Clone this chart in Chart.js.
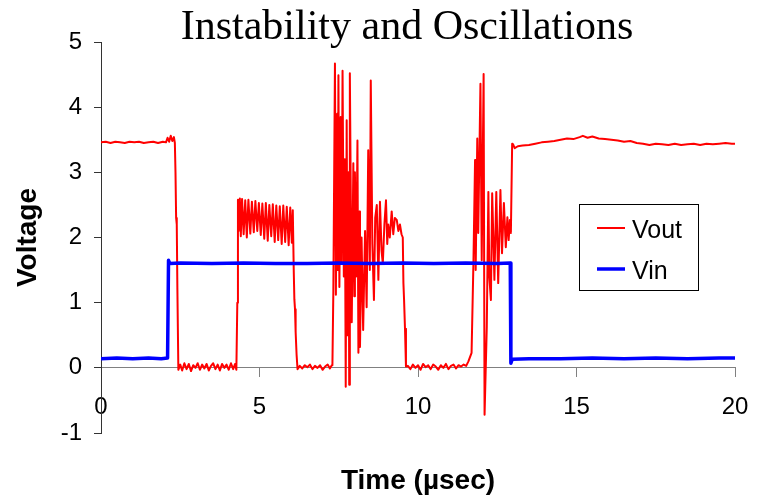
<!DOCTYPE html>
<html>
<head>
<meta charset="utf-8">
<title>Instability and Oscillations</title>
<script src="https://cdn.jsdelivr.net/npm/chart.js@4.4.1/dist/chart.umd.min.js"></script>
<style>
  html, body { margin: 0; padding: 0; background: #fff; }
  #wrap { width: 765px; height: 497px; }
</style>
</head>
<body>
<div id="wrap"><canvas id="scopeChart" width="765" height="497"></canvas></div>
<script>
// ---- data (time in µs, voltage in V) ----
const chartTitle = "Instability and Oscillations";
const xTitle = "Time (\u00b5sec)";
const yTitle = "Voltage";
const seriesNames = ["Vout", "Vin"];
const xTicks = [0, 5, 10, 15, 20];
const yTicks = [-1, 0, 1, 2, 3, 4, 5];

const voutTime = [
  // high before the input step
  0, 0.15, 0.3, 0.45, 0.6, 0.75, 0.9, 1.05, 1.2, 1.35, 1.5, 1.65, 1.8, 1.95, 2.05, 2.1, 2.15, 2.2, 2.25, 2.3, 2.33, 2.35, 2.37, 2.39, 2.41, 2.44,
  // low
  2.5, 2.56, 2.63, 2.7, 2.77, 2.84, 2.91, 2.98, 3.05, 3.12, 3.19, 3.26, 3.33, 3.4, 3.47, 3.54, 3.61, 3.68, 3.75, 3.82, 3.89, 3.96, 4.03, 4.1, 4.17, 4.23, 4.27,
  // ringing plateau
  4.3, 4.32, 4.34, 4.38, 4.41, 4.45, 4.5, 4.55, 4.6, 4.65, 4.71, 4.76, 4.82, 4.87, 4.93, 4.98, 5.04, 5.09, 5.15, 5.2, 5.26, 5.31, 5.37, 5.42, 5.48, 5.53, 5.59, 5.64, 5.7, 5.75, 5.81, 5.86, 5.92, 5.97, 6.02, 6.05,
  6.08, 6.1, 6.12, 6.14, 6.17, 6.2,
  // low
  6.27, 6.35, 6.43, 6.51, 6.59, 6.67, 6.75, 6.83, 6.91, 6.99, 7.07, 7.15, 7.22, 7.28,
  // first burst
  7.30, 7.33, 7.38, 7.41, 7.45, 7.47, 7.49, 7.52, 7.56, 7.59, 7.62, 7.66, 7.69, 7.72, 7.75, 7.78, 7.81, 7.83, 7.85, 7.91,
  7.96, 7.99, 8.01, 8.05, 8.09, 8.12, 8.15, 8.17, 8.22, 8.27, 8.33, 8.38, 8.43, 8.48, 8.51, 8.56, 8.61, 8.65, 8.70, 8.75,
  8.80, 8.85, 8.89, 8.94, 8.99, 9.03, 9.06, 9.11, 9.17, 9.22, 9.27, 9.33, 9.38, 9.43, 9.48, 9.52, 9.54, 9.56, 9.59, 9.62,
  // low
  9.68, 9.76, 9.84, 9.92, 10.0, 10.08, 10.16, 10.24, 10.32, 10.4, 10.48, 10.56, 10.64, 10.72, 10.8, 10.88, 10.96, 11.04, 11.12, 11.2, 11.28, 11.36, 11.44, 11.52,
  // second burst
  11.59, 11.69, 11.75, 11.80, 11.82, 11.87, 11.90, 11.97, 12.01, 12.07, 12.10, 12.17, 12.22, 12.25, 12.30, 12.34, 12.41, 12.47, 12.53, 12.60, 12.65, 12.71, 12.77, 12.82, 12.86, 12.90, 12.93, 12.97,
  // settled high
  13.0, 13.05, 13.15, 13.3, 13.5, 13.7, 13.9, 14.1, 14.3, 14.5, 14.7, 14.9, 15.1, 15.2, 15.35, 15.5, 15.7, 15.9, 16.1, 16.3,
  16.5, 16.7, 16.9, 17.1, 17.3, 17.5, 17.7, 17.9, 18.1, 18.3, 18.5, 18.7, 18.9, 19.1, 19.3, 19.5, 19.7, 19.9, 20.0
];
const voutVolts = [
  3.46, 3.47, 3.45, 3.47, 3.46, 3.45, 3.47, 3.46, 3.47, 3.45, 3.46, 3.47, 3.45, 3.47, 3.46, 3.53, 3.47, 3.56, 3.48, 3.54, 3.45, 3.0, 2.3, 2.2, 1.2, -0.03,
  0.05, -0.04, 0.07, -0.02, 0.06, -0.05, 0.04, 0.0, 0.07, -0.03, 0.05, -0.01, 0.06, -0.04, 0.03, 0.07, -0.02, 0.05, -0.04, 0.06, 0.0, 0.05, -0.03, 0.07, -0.02, 0.06, -0.03,
  1.0, 2.58, 2.1, 2.6, 2.02, 2.59, 2.05, 2.57, 2.0, 2.58, 2.06, 2.55, 2.08, 2.56, 2.1, 2.53, 2.04, 2.52, 1.98, 2.53, 1.95, 2.5, 2.02, 2.51, 1.93, 2.49, 1.96, 2.48, 1.9, 2.49, 1.93, 2.47, 1.88, 2.46, 1.92, 2.42,
  1.5, 1.05, 0.9, 0.55, 0.2, -0.02,
  0.03, -0.01, 0.04, 0.01, 0.05, -0.02, 0.03, 0.0, 0.04, -0.03, 0.02, 0.05, -0.01, 0.04,
  0.04, 1.2, 4.67, 1.12, 3.9, 1.5, 4.49, 1.24, 3.85, 1.6, 4.56, 1.4, 3.2, -0.29, 3.8, 0.5, 3.0, -0.26, 4.52, 0.7,
  3.14, 1.1, 3.0, 1.4, 3.49, 0.23, 2.4, 0.32, 2.0, 0.58, 2.1, 0.93, 3.34, 1.5, 4.41, 1.9, 1.04, 2.3, 2.5, 1.35,
  2.55, 1.8, 1.6, 2.2, 2.57, 1.9, 2.2, 2.0, 2.4, 2.05, 2.3, 2.27, 2.1, 2.2, 2.05, 2.0, 1.3, 1.05, 0.6, 0.02,
  0.03, -0.02, 0.05, 0.0, 0.04, -0.03, 0.06, 0.01, 0.04, -0.02, 0.05, 0.02, -0.03, 0.04, 0.0, 0.06, -0.02, 0.03, 0.05, -0.01, 0.04, 0.02, 0.05, 0.03,
  0.1, 0.23, 1.65, 3.19, 1.5, 3.52, 2.07, 4.36, 1.65, 4.51, -0.72, 0.63, 2.7, 1.4, 1.04, 2.68, 1.35, 2.7, 1.3, 2.73, 1.76, 2.53, 1.85, 2.31, 1.96, 2.27, 2.07, 3.44,
  3.43, 3.37, 3.40, 3.41, 3.42, 3.44, 3.46, 3.47, 3.48, 3.50, 3.52, 3.51, 3.54, 3.56, 3.53, 3.55, 3.52, 3.51, 3.50, 3.49,
  3.47, 3.48, 3.45, 3.44, 3.42, 3.44, 3.43, 3.42, 3.44, 3.42, 3.43, 3.44, 3.42, 3.44, 3.43, 3.44, 3.45, 3.44, 3.44
];

const vinTime = [0, 0.5, 1.0, 1.5, 1.9, 2.1, 2.13, 2.17, 2.5, 3.5, 4.5, 5.5, 6.5, 7.5, 8.5, 9.5, 10.5, 11.5, 12.5, 12.91, 12.93, 12.97, 13.5, 14.5, 15.5, 16.5, 17.5, 18.5, 19.5, 20];
const vinVolts = [0.14, 0.15, 0.14, 0.15, 0.14, 0.15, 1.65, 1.60, 1.61, 1.60, 1.61, 1.60, 1.60, 1.61, 1.60, 1.61, 1.60, 1.61, 1.60, 1.61, 0.07, 0.13, 0.14, 0.14, 0.15, 0.14, 0.15, 0.14, 0.15, 0.15];

const toPoints = (ts, vs) => ts.map((t, i) => ({ x: t, y: vs[i] }));

const sansFont = '"Liberation Sans", Arial, Helvetica, sans-serif';

// title drawn across the top, a little left of the plot centre like the original
const topTitle = {
  id: "topTitle",
  afterDraw(chart) {
    const ctx = chart.ctx;
    ctx.save();
    ctx.font = '42px "Liberation Serif", "Times New Roman", serif';
    ctx.fillStyle = "#000";
    ctx.textAlign = "center";
    ctx.textBaseline = "alphabetic";
    ctx.fillText(chartTitle, 407, 39);
    ctx.restore();
  }
};

// boxed legend sitting inside the plot area
const boxLegend = {
  id: "boxLegend",
  afterDatasetsDraw(chart) {
    const ctx = chart.ctx;
    const left = 579.5, top = 204.5, w = 119, h = 86;
    ctx.save();
    ctx.fillStyle = "#fff";
    ctx.fillRect(left, top, w, h);
    ctx.strokeStyle = "#000";
    ctx.lineWidth = 1;
    ctx.strokeRect(left, top, w, h);
    ctx.font = "25px " + sansFont;
    ctx.textBaseline = "alphabetic";
    chart.data.datasets.forEach((ds, i) => {
      const y = 228 + i * 41;
      ctx.strokeStyle = ds.borderColor;
      ctx.lineWidth = ds.borderWidth;
      ctx.beginPath();
      ctx.moveTo(597, y);
      ctx.lineTo(625, y);
      ctx.stroke();
      ctx.fillStyle = "#000";
      ctx.fillText(ds.label, 632, y + 10);
    });
    ctx.restore();
  }
};

new Chart(document.getElementById("scopeChart"), {
  type: "line",
  data: {
    datasets: [
      {
        label: seriesNames[0],
        data: toPoints(voutTime, voutVolts),
        borderColor: "#ff0000",
        borderWidth: 2,
        borderJoinStyle: "round",
        pointRadius: 0,
        tension: 0,
        order: 1
      },
      {
        label: seriesNames[1],
        data: toPoints(vinTime, vinVolts),
        borderColor: "#0000ff",
        borderWidth: 3.5,
        borderJoinStyle: "round",
        pointRadius: 0,
        tension: 0,
        order: 0
      }
    ]
  },
  options: {
    responsive: false,
    animation: false,
    layout: { padding: { left: 0, right: 30, top: 42, bottom: 64 } },
    plugins: {
      legend: { display: false },
      title: { display: false },
      tooltip: { enabled: false }
    },
    scales: {
      x: {
        type: "linear",
        position: { y: 0 },
        min: xTicks[0],
        max: xTicks[xTicks.length - 1],
        afterBuildTicks: s => { s.ticks = xTicks.map(v => ({ value: v })); },
        grid: { drawOnChartArea: false, drawTicks: true, tickLength: 9, color: "#808080" },
        border: { display: true, color: "#808080", width: 1 },
        ticks: { color: "#000", padding: 16, maxRotation: 0, font: { family: sansFont, size: 24 } },
        title: {
          display: true,
          text: xTitle,
          color: "#000",
          padding: { top: 27, bottom: 0 },
          font: { family: sansFont, size: 28, weight: "bold" }
        }
      },
      y: {
        type: "linear",
        position: "left",
        min: yTicks[0],
        max: yTicks[yTicks.length - 1],
        afterBuildTicks: s => { s.ticks = yTicks.map(v => ({ value: v })); },
        afterFit: s => { s.width = 101; },
        grid: { drawOnChartArea: false, drawTicks: true, tickLength: 7, color: "#333" },
        border: { display: true, color: "#333", width: 1 },
        ticks: { color: "#000", padding: 12, font: { family: sansFont, size: 24 } },
        title: {
          display: true,
          text: yTitle,
          color: "#000",
          padding: { top: 11, bottom: 0 },
          font: { family: sansFont, size: 28, weight: "bold" }
        }
      }
    }
  },
  plugins: [topTitle, boxLegend]
});
</script>
</body>
</html>
